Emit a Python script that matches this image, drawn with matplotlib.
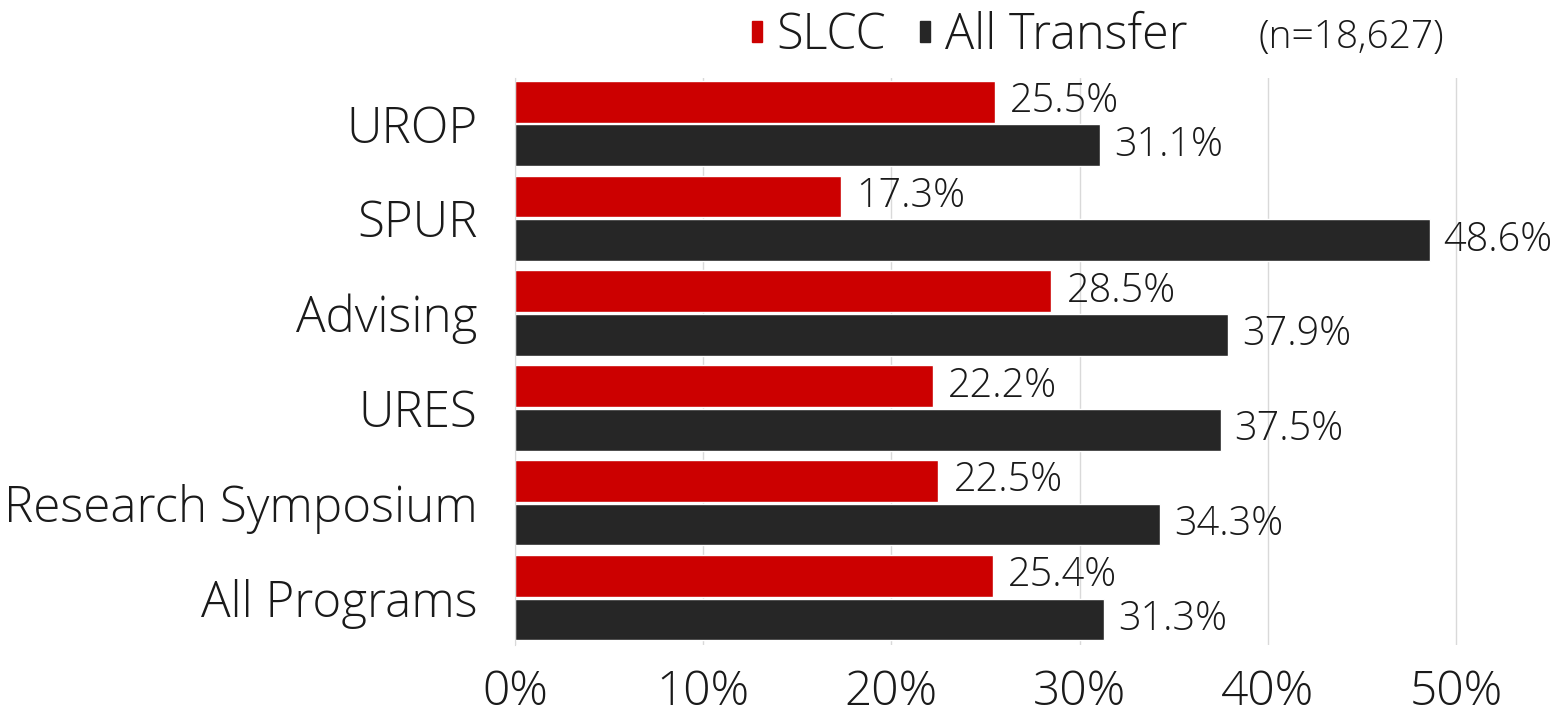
import numpy as np
import matplotlib.pyplot as plt
from matplotlib.patches import Patch
from matplotlib import font_manager

categories = ["UROP", "SPUR", "Advising", "URES", "Research Symposium", "All Programs"]
slcc = [25.5, 17.3, 28.5, 22.2, 22.5, 25.4]
all_transfer = [31.1, 48.6, 37.9, 37.5, 34.3, 31.3]
x_ticks = [0, 10, 20, 30, 40, 50]
n_note = "(n=18,627)"

RED = "#CC0000"
DARK = "#262626"
TEXT = "#1a1a1a"

# pick a light weight face if one is installed
family, weight = "Open Sans", "normal"
light = [(f.name, f.weight) for f in font_manager.fontManager.ttflist if f.weight in (300, "light")]
for name in ["Open Sans", "Lato", "Noto Sans", "Roboto", "Inter"]:
    if any(n == name for n, _ in light):
        family, weight = name, 300
        break

plt.rcParams['font.family'] = [family, 'DejaVu Sans']
plt.rcParams['font.weight'] = weight

fig = plt.figure(figsize=(15.55, 7.19), dpi=100)
ax = fig.add_axes([515 / 1555, 1 - 645 / 719, 1035 / 1555, 567 / 719])

y = np.arange(len(categories))
h = 0.44
b1 = ax.barh(y - 0.23, slcc, height=h, color=RED, edgecolor="white", linewidth=1)
b2 = ax.barh(y + 0.23, all_transfer, height=h, color=DARK, edgecolor="white", linewidth=1)

ax.bar_label(b1, labels=[f"{v:.1f}%" for v in slcc], padding=11, fontsize=28.5, color=TEXT)
ax.bar_label(b2, labels=[f"{v:.1f}%" for v in all_transfer], padding=10, fontsize=28.5, color=TEXT)

ax.set_ylim(len(categories) - 0.5, -0.48)
ax.set_xlim(0, 55)
ax.set_yticks(y)
ax.set_yticklabels(categories, fontsize=35.5, color=TEXT)
ax.set_xticks(x_ticks)
ax.set_xticklabels([f"{t}%" for t in x_ticks], fontsize=34.5, color=TEXT)
ax.tick_params(axis="both", length=0)
ax.tick_params(axis="y", pad=27)
ax.tick_params(axis="x", pad=17)

ax.grid(axis="x", color="#D9D9D9", linewidth=1)
ax.set_axisbelow(True)
for s in ["top", "right", "bottom"]:
    ax.spines[s].set_visible(False)
ax.spines["left"].set_color("#D9D9D9")

handles = [Patch(color=RED, label="SLCC"), Patch(color=DARK, label="All Transfer")]
fig.legend(handles=handles, loc="center left", bbox_to_anchor=(728 / 1555, 1 - 36 / 719),
           ncol=2, frameon=False, fontsize=35, handlelength=0.2, handleheight=0.3,
           handletextpad=0.3, columnspacing=0.7, borderpad=0, labelcolor=TEXT)
fig.text(1258 / 1555, 1 - 38 / 719, n_note, fontsize=28, va="center", ha="left", color=TEXT)

fig.savefig("out.png", dpi=100)
